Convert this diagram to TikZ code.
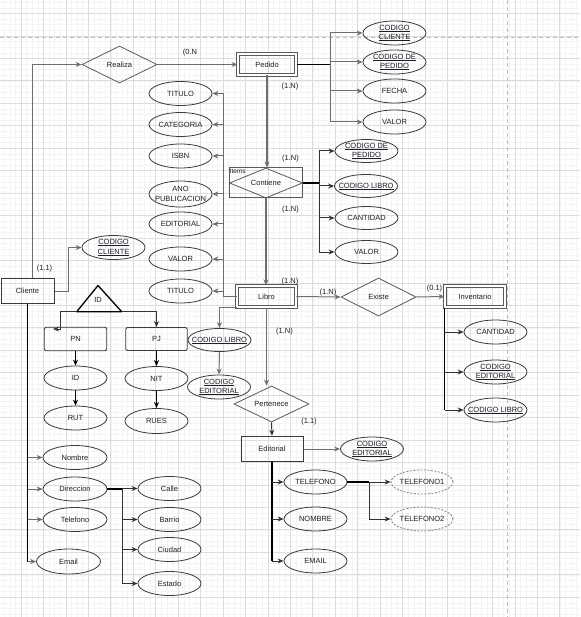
\documentclass[tikz,border=0pt]{standalone}
\usepackage{fontspec}
\setmainfont{Liberation Sans}
\usetikzlibrary{shapes.geometric,arrows.meta}
\definecolor{txt}{HTML}{1E1E28}
\definecolor{gridmin}{HTML}{F4F4F4}
\definecolor{gridmaj}{HTML}{DDDDDD}
\definecolor{pagebrk}{HTML}{BDBDBD}
\definecolor{lnG}{HTML}{6E6E6E}
\definecolor{lnD}{HTML}{333333}
\definecolor{shp}{HTML}{3A3A3A}
\definecolor{shpG}{HTML}{5A5A5A}
\newcommand{\uk}[1]{{\setbox0\hbox{#1}\rlap{\rule[-1.1pt]{\wd0}{0.5pt}}\box0}}
\begin{document}
\begin{tikzpicture}[x=1pt,y=-1pt,
  every node/.append style={font=\fontsize{7.5}{9.5}\selectfont, text=txt},
  ent/.style={rectangle, draw=shp, line width=1pt, inner sep=0pt, minimum width=62pt, minimum height=25pt},
  went/.style={rectangle, draw=shpG, line width=1pt, double=white, double distance=2pt, inner sep=0pt, minimum width=59pt, minimum height=21pt},
  att/.style={ellipse, draw=shp, line width=0.8pt, inner sep=-20pt, minimum width=63pt, minimum height=24pt, align=center},
  datt/.style={att, draw=gray, dash pattern=on 2pt off 1.5pt},
  rel/.style={diamond, aspect=2, draw=shpG, line width=0.8pt, inner sep=0pt, minimum width=75pt, minimum height=37pt},
  lbl/.style={inner sep=0pt},
  gA/.style={draw=lnG, line width=1pt, -{Stealth[length=6pt,width=5pt]}},
  gT/.style={draw=lnG, line width=1.6pt, -{Stealth[length=6pt,width=5pt]}},
  gL/.style={draw=lnG, line width=1.6pt},
  dA/.style={draw=lnD, line width=1pt, -{Stealth[length=6pt,width=5pt]}},
  bL/.style={draw=black, line width=1.4pt},
  bA/.style={draw=black, line width=1.3pt, -{Stealth[length=6pt,width=5pt]}},
  minorg/.style={draw=gridmin, line width=0.5pt},
  majorg/.style={draw=gridmaj, line width=0.8pt},
  brk/.style={draw=pagebrk, line width=0.9pt, dash pattern=on 4pt off 3pt},
]
\useasboundingbox (0,0) rectangle (580,617);
% background grid
\foreach \i in {0,...,104} {\draw[minorg] ({-1.45+\i*5.6125},0) -- ++(0,617);}
\foreach \i in {0,...,112} {\draw[minorg] (0,{-8.95+\i*5.6125}) -- ++(580,0);}
\foreach \i in {0,...,26} {\draw[majorg] ({-1.45+\i*22.45},0) -- ++(0,617);}
\foreach \i in {0,...,28} {\draw[majorg] (0,{-8.95+\i*22.45}) -- ++(580,0);}
\draw[brk] (0,37) -- (580,37);
\draw[brk] (507,0) -- (507,617);

% ---- Pedido / Realiza
\node[rel] (rea) at (119.5,64.5) {Realiza};
\node[went, minimum width=58pt] (ped) at (267,64.5) {Pedido};
\node[att] (pa1) at (394.5,33) {\uk{CODIGO}\\\uk{CLIENTE}};
\node[att] (pa2) at (394.5,62) {\uk{CODIGO DE}\\\uk{PEDIDO}};
\node[att] (pa3) at (394.5,91) {FECHA};
\node[att] (pa4) at (394.5,122) {VALOR};

% ---- Contiene
\node[rectangle, draw=shpG, line width=1pt, minimum width=73pt, minimum height=30pt, inner sep=0pt] (conr) at (266,183) {};
\node[diamond, aspect=2.4, draw=shpG, line width=0.8pt, inner sep=0pt, minimum width=73pt, minimum height=30pt] (cond) at (266,183) {Contiene};
\node[lbl, anchor=north west, font=\fontsize{6.5}{7}\selectfont] (itm) at (229.5,168.5) {Items};
\node[att, minimum height=23pt] (ca1) at (366.5,151) {\uk{CODIGO DE}\\\uk{PEDIDO}};
\node[att, minimum height=23pt] (ca2) at (366,186) {\uk{CODIGO LIBRO}};
\node[att, minimum height=23pt] (ca3) at (366.5,218) {CANTIDAD};
\node[att, minimum height=23pt] (ca4) at (366.5,252) {VALOR};

% ---- Libro attributes
\node[att] (la1) at (180.5,93.5) {TITULO};
\node[att] (la2) at (180.5,124.5) {CATEGORIA};
\node[att] (la3) at (180.5,156) {ISBN};
\node[att, minimum height=26pt] (la4) at (180.5,194) {ANO\\PUBLICACION};
\node[att] (la5) at (180.5,224) {EDITORIAL};
\node[att] (la6) at (180.5,259) {VALOR};
\node[att] (la7) at (180.5,291) {TITULO};

% ---- Libro / Existe / Inventario
\node[went, minimum width=58.7pt] (lib) at (266.5,296.5) {Libro};
\node[rel, minimum height=38pt] (exi) at (378.5,297) {Existe};
\node[went, minimum width=60pt] (inv) at (475,296.5) {Inventario};
\node[att] (ia1) at (495.5,332) {CANTIDAD};
\node[att] (ia2) at (495.5,372) {\uk{CODIGO}\\\uk{EDITORIAL}};
\node[att] (ia3) at (495.5,410) {\uk{CODIGO LIBRO}};
\node[att, minimum height=23pt] (lcl) at (219.5,340) {\uk{CODIGO LIBRO}};
\node[att] (lce) at (219,387) {\uk{CODIGO}\\\uk{EDITORIAL}};

% ---- Pertenece / Editorial
\node[rel, minimum height=36pt] (per) at (271.5,404) {Pertenece};
\node[ent, minimum height=25.5pt] (edi) at (272,449) {Editorial};
\node[att] (eck) at (372,449) {\uk{CODIGO}\\\uk{EDITORIAL}};
\node[att] (ea1) at (315.5,482) {TELEFONO};
\node[att] (ea2) at (315.5,519) {NOMBRE};
\node[att] (ea3) at (315.5,561) {EMAIL};
\node[datt, minimum width=62pt] (t1) at (422,482) {TELEFONO1};
\node[datt, minimum width=62pt] (t2) at (422,519) {TELEFONO2};

% ---- Cliente
\node[ent, minimum width=53pt] (cli) at (27.5,291) {Cliente};
\node[att] (cck) at (113.5,247.5) {\uk{CODIGO}\\\uk{CLIENTE}};
\coordinate (tA) at (98,285.5);
\coordinate (tL) at (76.7,311.7);
\coordinate (tR) at (121.7,311.7);
\draw[draw=black, line width=1.3pt, line join=round] (tA) -- (tL) -- (tR) -- cycle;
\node[lbl] (idt) at (98,299.5) {ID};
\node[ent, rounded corners=2pt, minimum width=62.5pt, minimum height=23.5pt, line width=0.9pt] (pn) at (75.5,339) {PN};
\node[ent, rounded corners=2pt, minimum width=61.5pt, minimum height=23pt, line width=0.9pt] (pj) at (156.5,339) {PJ};
\node[att] (pid) at (75.5,378) {ID};
\node[att] (rut) at (75.5,418) {RUT};
\node[att] (nit) at (156.5,378.5) {NIT};
\node[att, minimum height=25pt] (rues) at (156.5,421) {RUES};
\node[att, minimum width=64pt] (nom) at (75,457.5) {Nombre};
\node[att, minimum width=64pt] (dir) at (75,489) {Direccion};
\node[att, minimum width=64pt] (tel) at (75,519.5) {Telefono};
\node[att, minimum width=64pt, minimum height=25pt] (ema) at (68.5,561.5) {Email};
\node[att] (cal) at (169.5,488.5) {Calle};
\node[att] (bar) at (169.5,519.5) {Barrio};
\node[att] (ciu) at (169.5,549.5) {Ciudad};
\node[att] (est) at (169.5,583.5) {Estado};

% ---- cardinality labels
\node[lbl] (c1) at (190,53) {(0.N};
\node[lbl] (c2) at (290,86.5) {(1.N)};
\node[lbl] (c3) at (290.5,159) {(1.N)};
\node[lbl] (c4) at (290.5,210) {(1.N)};
\node[lbl] (c5) at (290,281.5) {(1.N)};
\node[lbl] (c6) at (328,293) {(1.N)};
\node[lbl] (c7) at (434.5,289) {(0.1)};
\node[lbl] (c8) at (284.5,332) {(1.N)};
\node[lbl] (c9) at (309,422) {(1.1)};
\node[lbl] (c10) at (44.5,269) {(1.1)};

% ---- junction coordinates
\coordinate (pedJ) at (330,64.5);
\coordinate (conJ) at (319,183);
\coordinate (libJ) at (223,296.5);
\coordinate (telJ) at (369,482);
\coordinate (cliJ) at (68.3,291);
\coordinate (dirJ) at (122.7,489);
\coordinate (tLJ) at (60,311.7);
\coordinate (pnIn) at (53,329);

% ---- connectors
\draw[gA] ([xshift=4.5pt]cli.north) |- (rea.west);
\draw[gA] (rea.east) -- (ped.west);
\draw[bL] (ped.east) -- (pedJ);
\foreach \n in {pa1,pa2,pa3,pa4} {\draw[gA] (pedJ) |- (\n.west);}
\draw[gT] (ped.south) -- (ped.south |- cond.north);
\draw[bL] (cond.east) -- (conJ);
\foreach \n in {ca1,ca2,ca3,ca4} {\draw[dA] (conJ) |- (\n.west);}
\draw[gT] (cond.south) -- (cond.south |- lib.north);
\draw[gL] (lib.west) -- (libJ);
\foreach \n in {la1,la2,la3,la4,la5,la6,la7} {\draw[gA] (libJ) |- (\n.east);}
\draw[gA] (lib.east) -- (exi.west);
\draw[gA] (exi.east) -- (inv.west);
\draw[bL] (inv.south west) -- (inv.south west |- ia3.west);
\foreach \n in {ia1,ia2,ia3} {\draw[dA] (inv.south west |- \n.west) -- (\n.west);}
\draw[gA] (lib.south west) -| (lcl.north);
\draw[gA] (lcl.south) -- (lce.north);
\draw[gA] (lib.south) -- (lib.south |- per.north);
\draw[dA] (per.south) -- (edi.north);
\draw[gA] (edi.east) -- (eck.west);
\draw[bL] (edi.south) -- (edi.south |- ea3.west);
\foreach \n in {ea1,ea2,ea3} {\draw[dA] (edi.south |- \n.west) -- (\n.west);}
\draw[bL] (ea1.east) -- (telJ);
\draw[dA] (telJ) -- (t1.west);
\draw[dA] (telJ) |- (t2.west);
\draw[gA] (cli.east) -- (cliJ) |- (cck.west);
\draw[bL] (cli.south) -- (cli.south |- ema.west);
\foreach \n in {nom,dir,tel,ema} {\draw[gA] (cli.south |- \n.west) -- (\n.west);}
\draw[bL] (dir.east) -- (dirJ);
\foreach \n in {cal,bar,ciu,est} {\draw[dA] (dirJ) |- (\n.west);}
\draw[dA, line width=0.9pt] (tL) -- (tLJ) |- (pnIn);
\draw[dA, line width=0.9pt] (tR) -| (pj.north);
\draw[bA] (pn.south) -- (pid.north);
\draw[bA] (pid.south) -- (rut.north);
\draw[bA] (pj.south) -- (nit.north);
\draw[bA] (nit.south) -- (rues.north);
\end{tikzpicture}
\end{document}
